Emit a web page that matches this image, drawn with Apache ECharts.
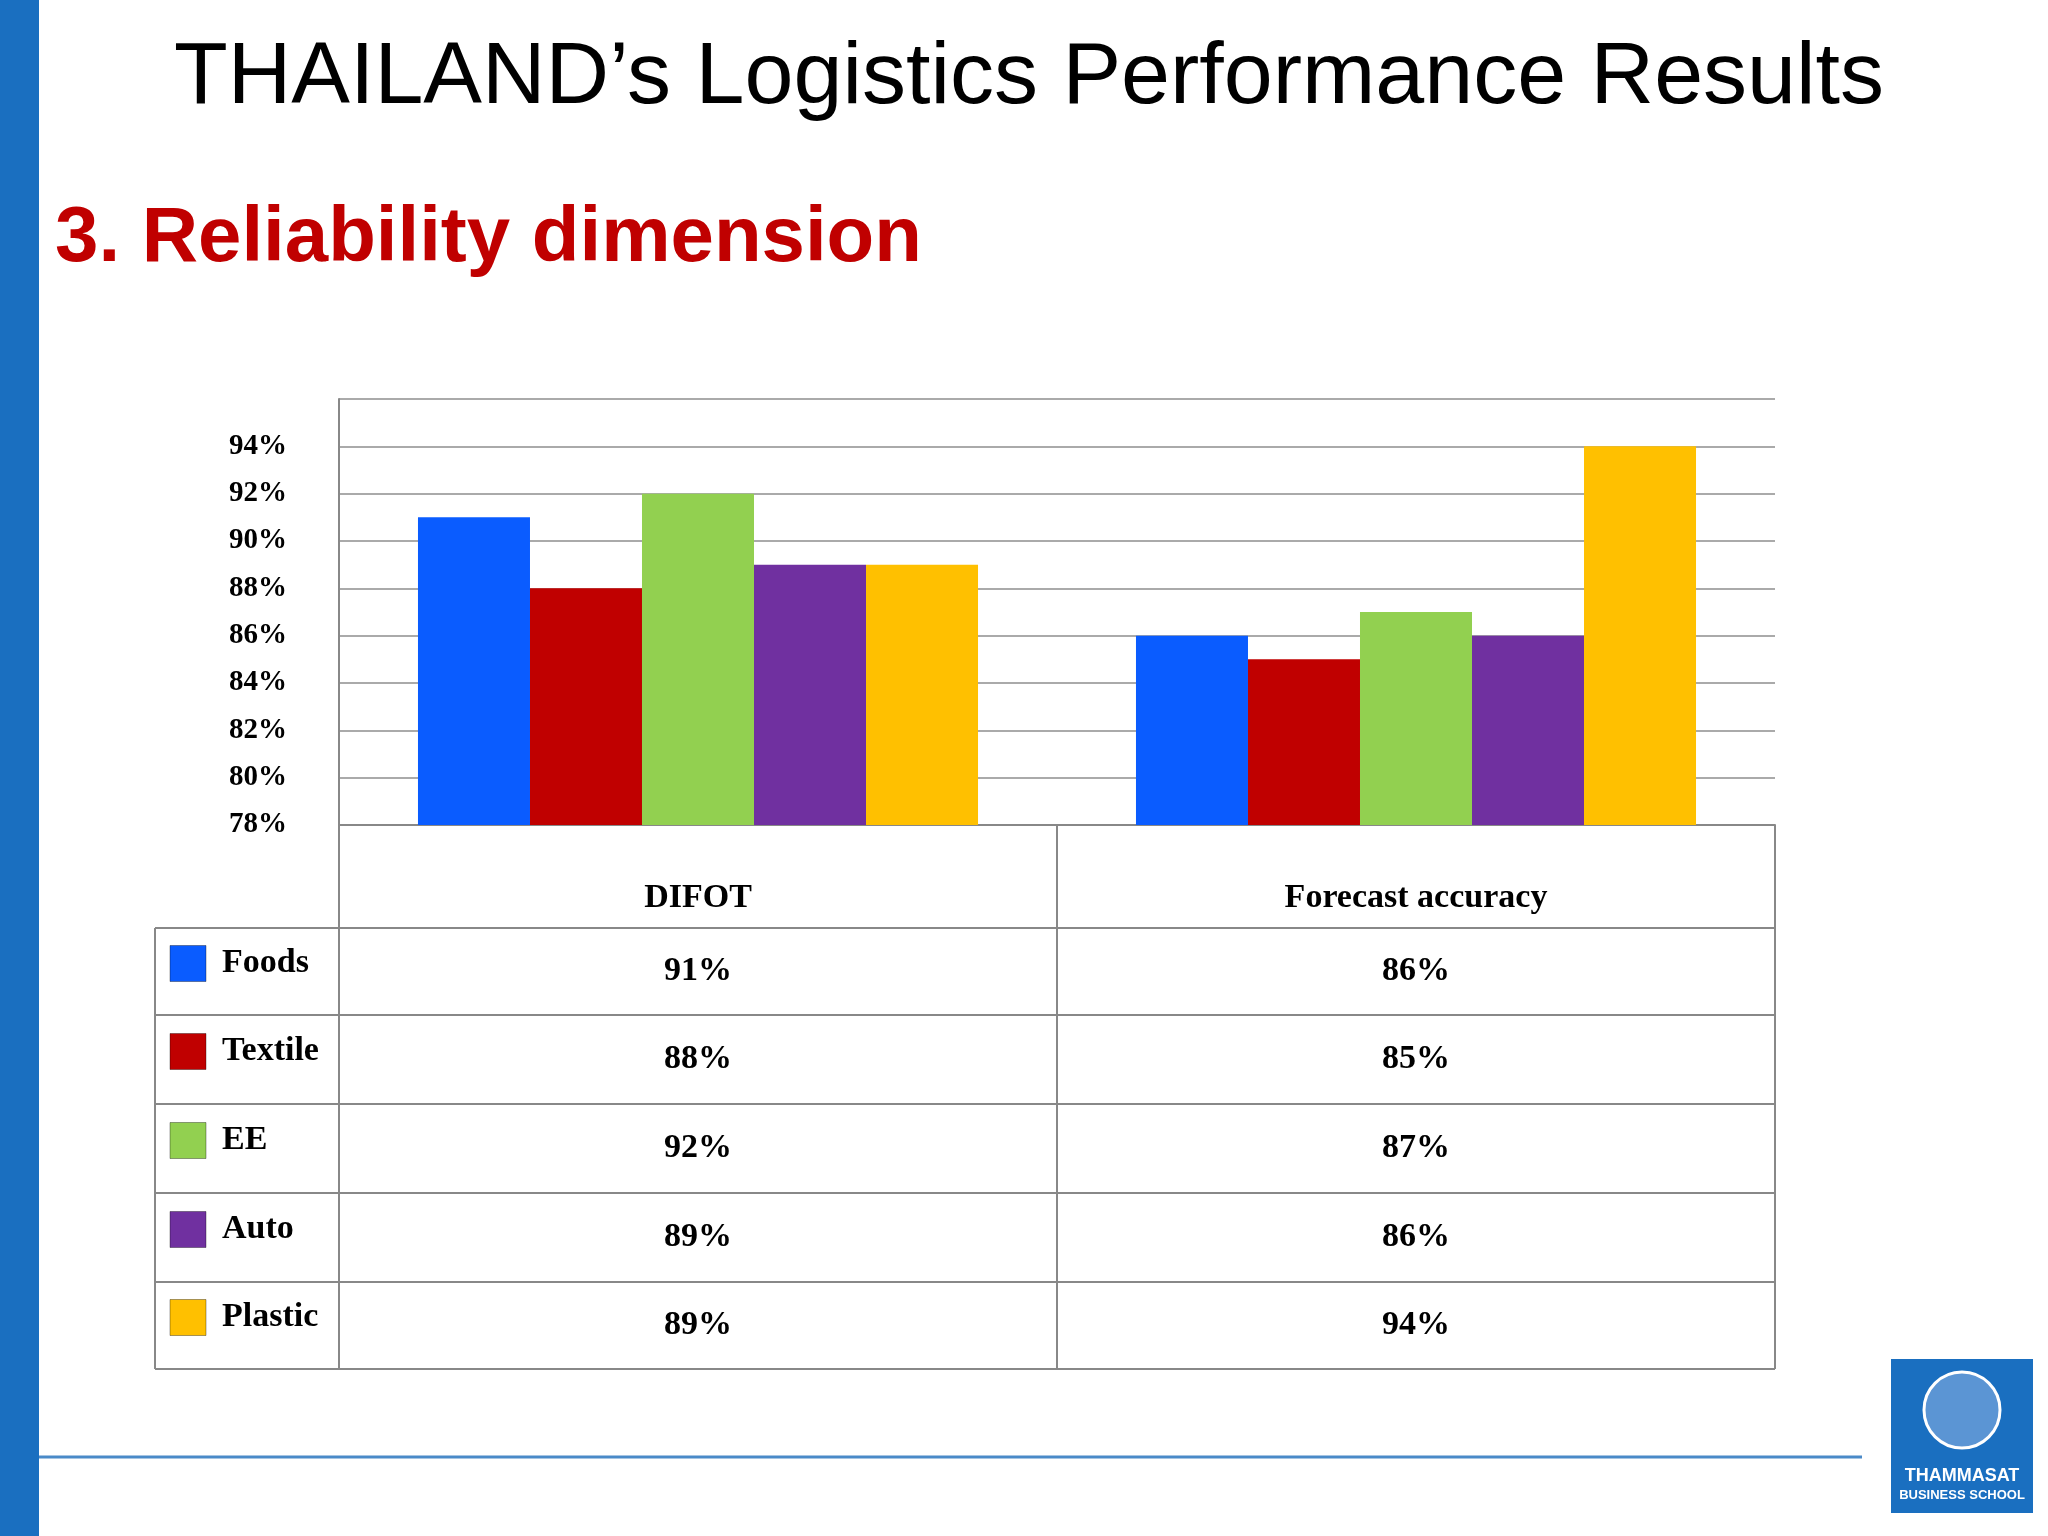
<!DOCTYPE html>
<html><head><meta charset="utf-8">
<script src="https://cdn.jsdelivr.net/npm/echarts@6/dist/echarts.min.js"></script>
<style>html,body{margin:0;background:#fff}#c{width:2048px;height:1536px}</style>
</head><body><div id="c"></div>
<script>
const categories = ['DIFOT', 'Forecast accuracy'];
const seriesNames = ['Foods', 'Textile', 'EE', 'Auto', 'Plastic'];
const colors = ['#0a5cff', '#c00000', '#92d050', '#7030a0', '#ffc000'];
const values = [
  [91, 86],
  [88, 85],
  [92, 87],
  [89, 86],
  [89, 94]
];

const chart = echarts.init(document.getElementById('c'));
const serif = 'Liberation Serif';

// table geometry
const colX = [155, 339, 1057, 1775];
const rowY = [825, 928, 1015, 1104, 1193, 1282, 1369];
const g = [];
const lineStyle = {stroke: '#888', lineWidth: 2};
// vertical lines
g.push({type: 'line', shape: {x1: colX[1], y1: rowY[0], x2: colX[1], y2: rowY[6]}, style: lineStyle});
g.push({type: 'line', shape: {x1: colX[2], y1: rowY[0], x2: colX[2], y2: rowY[6]}, style: lineStyle});
g.push({type: 'line', shape: {x1: colX[3], y1: rowY[0], x2: colX[3], y2: rowY[6]}, style: lineStyle});
g.push({type: 'line', shape: {x1: colX[0], y1: rowY[1], x2: colX[0], y2: rowY[6]}, style: lineStyle});
g.push({type: 'line', shape: {x1: colX[1], y1: rowY[0], x2: colX[3], y2: rowY[0]}, style: lineStyle});
for (let r = 1; r <= 6; r++) {
  g.push({type: 'line', shape: {x1: colX[0], y1: rowY[r], x2: colX[3], y2: rowY[r]}, style: lineStyle});
}
// header
categories.forEach((c, i) => {
  g.push({type: 'text', x: (colX[i + 1] + colX[i + 2]) / 2, y: rowY[1] - 30,
    style: {text: c, font: 'bold 34px ' + serif, fill: '#000', align: 'center', verticalAlign: 'middle'}});
});
// rows
seriesNames.forEach((n, r) => {
  const cy = (rowY[r + 1] + rowY[r + 2]) / 2;
  g.push({type: 'rect', shape: {x: 170, y: cy - 26, width: 36, height: 36},
    style: {fill: colors[r], stroke: 'rgba(0,0,0,0.35)', lineWidth: 1}});
  g.push({type: 'text', x: 222, y: cy - 8,
    style: {text: n, font: 'bold 34px ' + serif, fill: '#000', verticalAlign: 'middle'}});
  values[r].forEach((v, i) => {
    g.push({type: 'text', x: (colX[i + 1] + colX[i + 2]) / 2, y: cy,
      style: {text: v + '%', font: 'bold 34px ' + serif, fill: '#000', align: 'center', verticalAlign: 'middle'}});
  });
});
// slide decoration
g.push({type: 'rect', shape: {x: 0, y: 0, width: 39, height: 1536}, style: {fill: '#1a6fc0'}});
g.push({type: 'line', shape: {x1: 39, y1: 1457, x2: 1862, y2: 1457}, style: {stroke: '#4a8ac8', lineWidth: 3}});
g.push({type: 'rect', shape: {x: 1891, y: 1359, width: 142, height: 154}, style: {fill: '#1a6fc0'}});
g.push({type: 'circle', shape: {cx: 1962, cy: 1410, r: 38}, style: {fill: '#5b95d4', stroke: '#fff', lineWidth: 3}});
g.push({type: 'text', x: 1962, y: 1476, style: {text: 'THAMMASAT', font: 'bold 18px Liberation Sans', fill: '#fff', align: 'center', verticalAlign: 'middle'}});
g.push({type: 'text', x: 1962, y: 1495, style: {text: 'BUSINESS SCHOOL', font: 'bold 13px Liberation Sans', fill: '#fff', align: 'center', verticalAlign: 'middle'}});

chart.setOption({
  animation: false,
  backgroundColor: '#fff',
  title: [
    {text: 'THAILAND\u2019s Logistics Performance Results', left: 1024, textAlign: 'center', top: 30,
      textStyle: {fontFamily: 'Liberation Sans', fontWeight: 'normal', fontSize: 88, color: '#000'}},
    {text: '3. Reliability dimension', left: 50, top: 195,
      textStyle: {fontFamily: 'Liberation Sans', fontWeight: 'bold', fontSize: 78, color: '#c00000'}}
  ],
  grid: {left: 339, right: 2048 - 1775, top: 399, bottom: 1536 - 825},
  xAxis: {type: 'category', data: categories, axisLabel: {show: false}, axisTick: {show: false},
    axisLine: {lineStyle: {color: '#888', width: 2}}},
  yAxis: {type: 'value', min: 78, max: 96, interval: 2,
    axisLabel: {formatter: v => v >= 96 ? '' : v + '%', fontFamily: serif, fontWeight: 'bold', fontSize: 29, color: '#000', margin: 52},
    axisLine: {show: true, lineStyle: {color: '#888', width: 2}},
    splitLine: {lineStyle: {color: '#aaa', width: 2}}},
  series: seriesNames.map((n, i) => ({
    name: n, type: 'bar', data: values[i].map(v => v),
    barGap: '0%', barCategoryGap: '22%',
    itemStyle: {color: colors[i]}
  })),
  graphic: g
});
</script></body></html>
